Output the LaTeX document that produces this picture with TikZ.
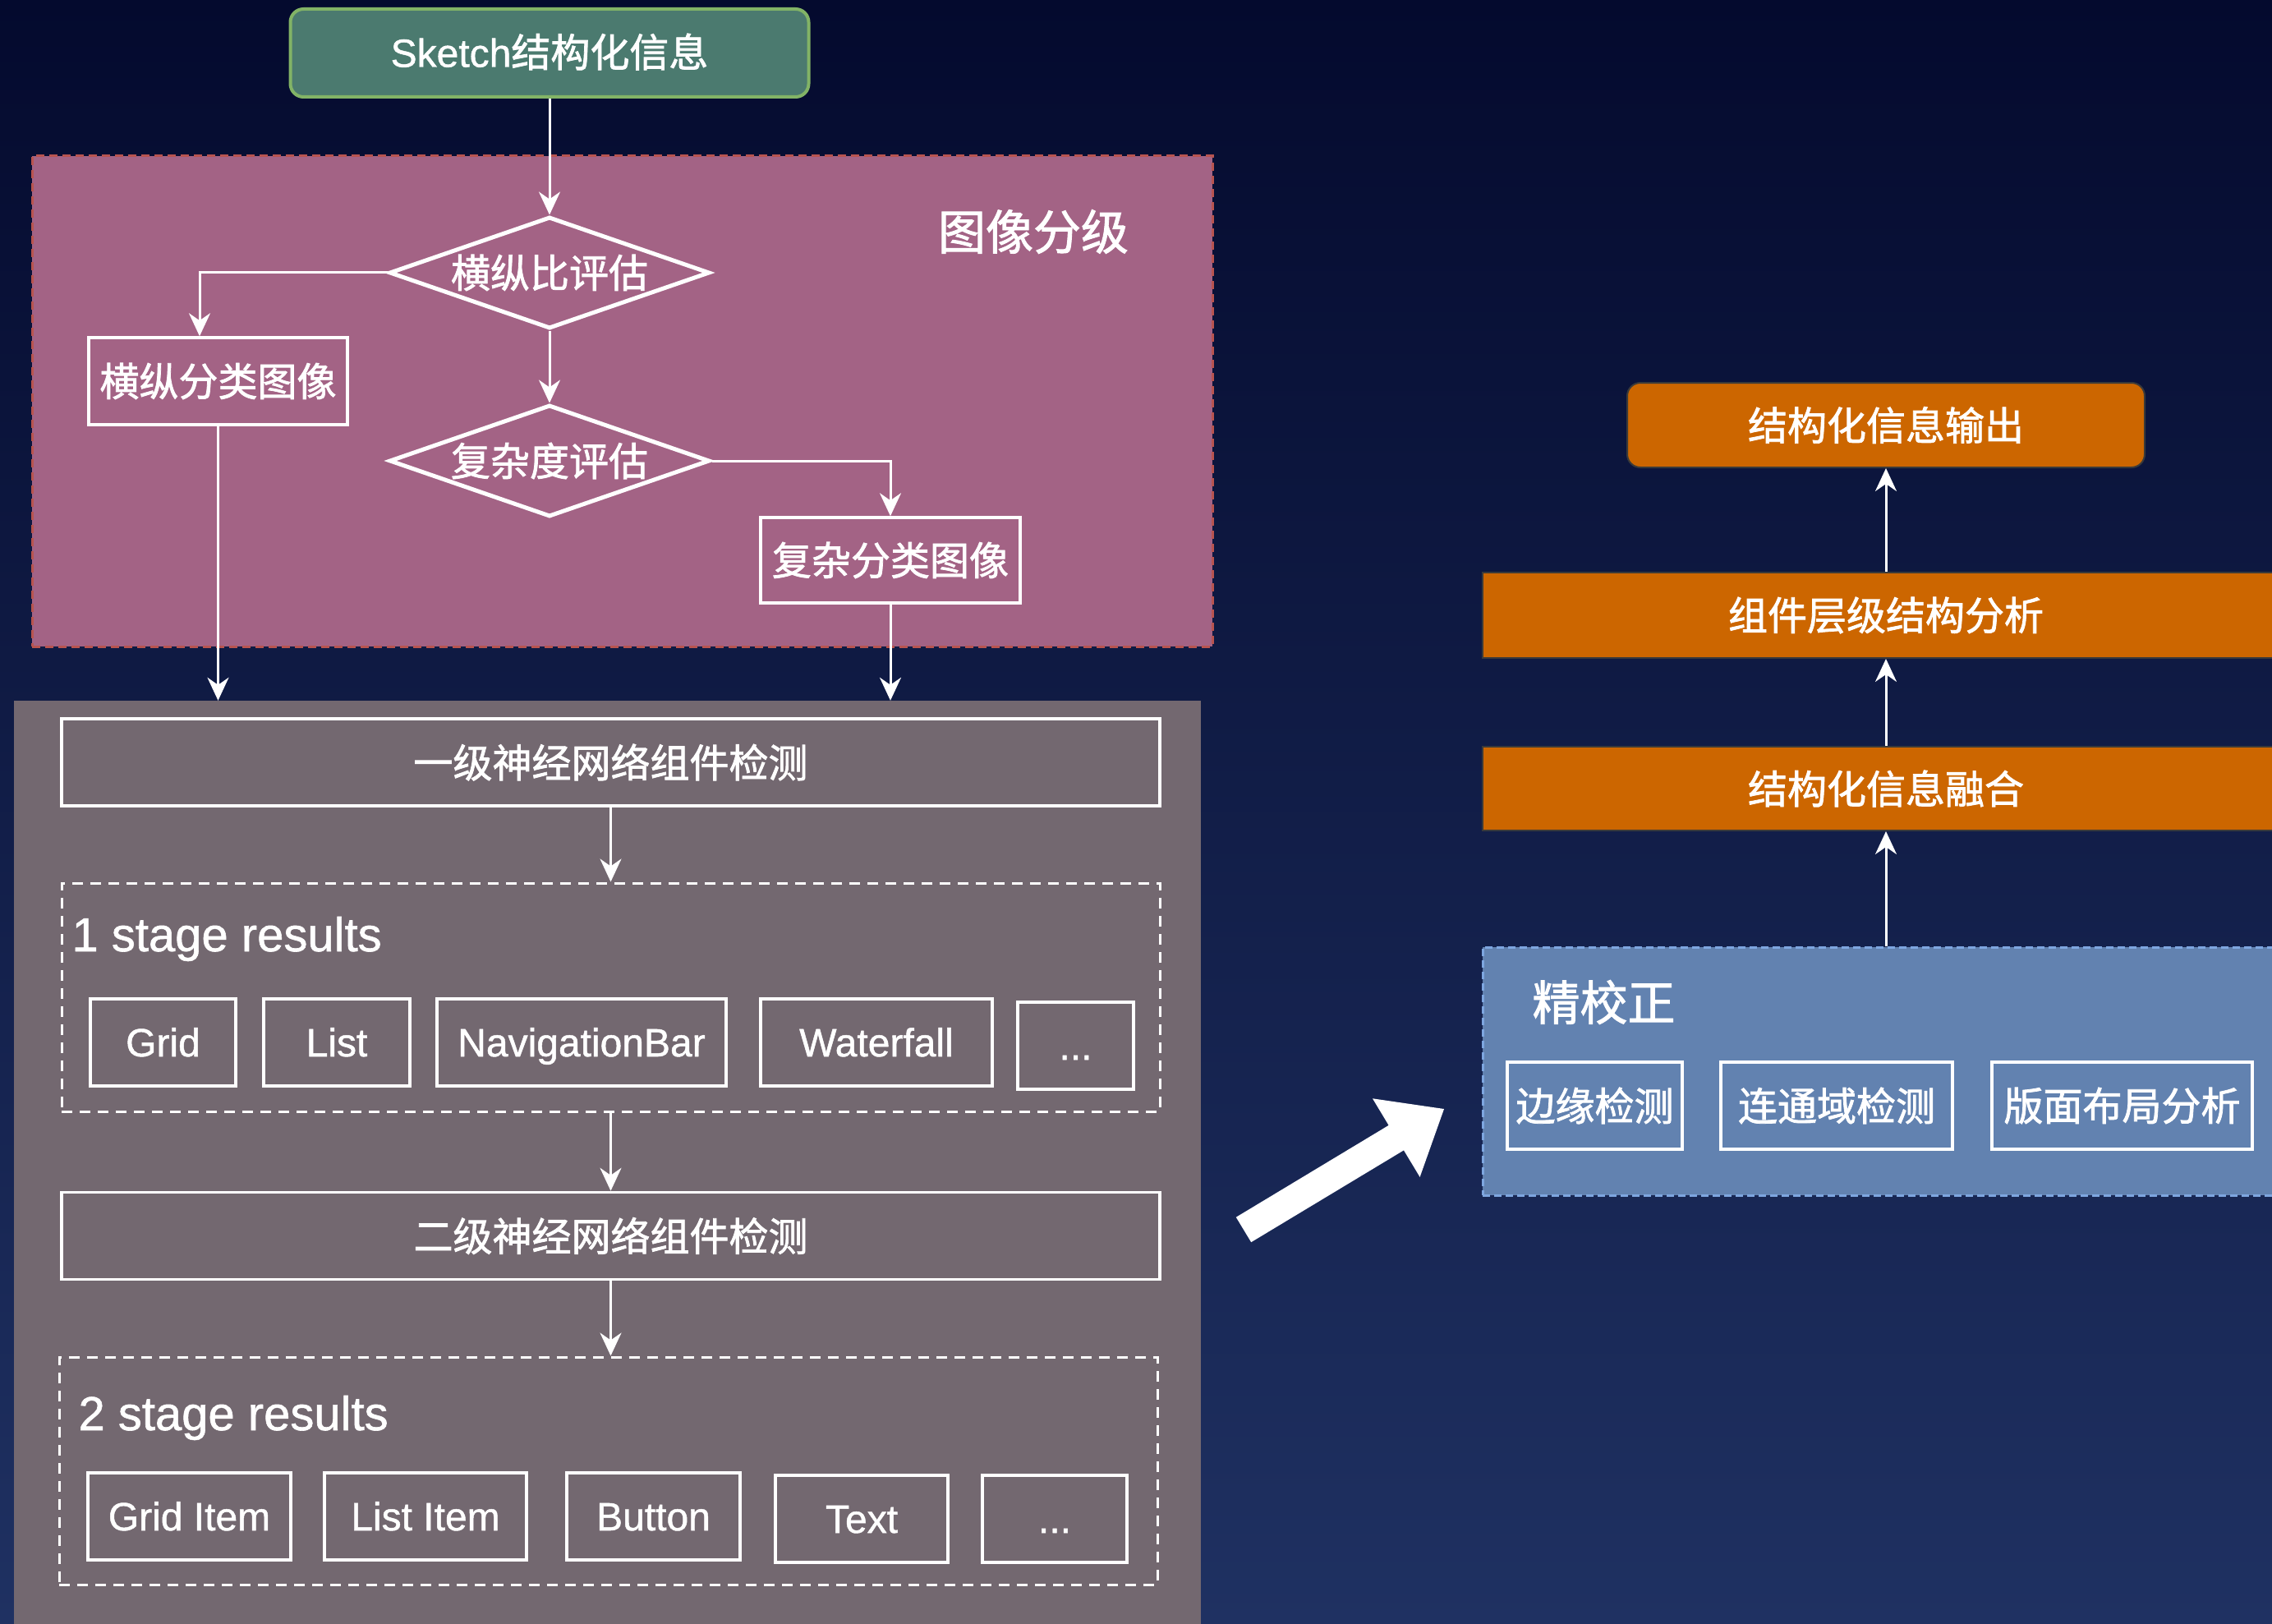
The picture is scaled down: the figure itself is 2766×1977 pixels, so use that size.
\documentclass[tikz,border=0pt]{standalone}
\usepackage{fontspec}
\setmainfont[FakeBold=1]{Liberation Sans}
\newfontfamily\cjk[FakeBold=1.6]{Noto Sans CJK SC}
\usetikzlibrary{shapes.geometric,arrows.meta}
\definecolor{bgtop}{HTML}{040A2E}
\definecolor{bgbot}{HTML}{1F3162}
\definecolor{greenf}{HTML}{4B7A6F}
\definecolor{greenb}{HTML}{82B366}
\definecolor{pinkf}{HTML}{A36385}
\definecolor{pinkb}{HTML}{B85450}
\definecolor{grayf}{HTML}{736870}
\definecolor{bluef}{HTML}{6282B0}
\definecolor{blueb}{HTML}{7EA6E0}
\definecolor{orangef}{HTML}{CC6600}
\definecolor{orangeb}{HTML}{3A3A3A}
\tikzset{
  zh/.style={font=\cjk\fontsize{48}{56}\selectfont, text=white},
  en/.style={font=\fontsize{48}{56}\selectfont, text=white, text height=34pt, text depth=0pt},
  zhbig/.style={font=\cjk\fontsize{58}{66}\selectfont, text=white},
  enbig/.style={font=\fontsize{58}{66}\selectfont, text=white},
  wbox/.style={draw=white, line width=3.5pt, inner sep=0pt, minimum height=106pt},
  dia/.style={diamond, draw=white, line width=5pt, inner sep=0pt, minimum width=390pt, minimum height=136pt},
  wdash/.style={draw=white, line width=3pt, dash pattern=on 13pt off 9pt, inner sep=0pt},
  obox/.style={fill=orangef, draw=orangeb, line width=2pt, inner sep=0pt},
  arr/.style={draw=white, line width=3pt, -{Stealth[length=28pt,width=26pt,inset=9pt]}},
}
\begin{document}
\begin{tikzpicture}[x=1pt,y=-1pt]
\useasboundingbox (0,0) rectangle (2766,1977);
\clip (0,0) rectangle (2766,1977);
\fill[top color=bgtop, bottom color=bgbot] (0,0) rectangle (2766,1977);

% regions
\node[fill=pinkf, draw=pinkb, line width=3pt, dash pattern=on 10pt off 6pt, minimum width=1437pt, minimum height=597pt, inner sep=0pt] (grading) at (757.5,488.5) {};
\node[zhbig] (gradingtitle) at (1258,282) {图像分级};
\node[fill=grayf, minimum width=1445pt, minimum height=1137pt, inner sep=0pt] (gray) at (739.5,1421.5) {};
\node[fill=bluef, draw=blueb, line width=3pt, dash pattern=on 9pt off 5pt, minimum width=982pt, minimum height=302pt, inner sep=0pt] (blue) at (2296,1304) {};
\node[zhbig, anchor=west] (bluetitle) at (1862,1220) {精校正};

% top
\node[fill=greenf, draw=greenb, line width=4pt, rounded corners=16pt, minimum width=631pt, minimum height=107pt, inner sep=0pt, en] (src) at (669,64.5) {Sketch{\cjk 结构化信息}};
\node[dia, label={[zh]center:横纵比评估}] (d1) at (669,332) {};
\node[dia, label={[zh]center:复杂度评估}] (d2) at (669,561) {};
\node[wbox, zh, minimum width=315pt] (bhv) at (265.5,464) {横纵分类图像};
\node[wbox, zh, minimum width=316pt, minimum height=104pt] (bcx) at (1084,682) {复杂分类图像};

% gray panel
\node[wbox, zh, minimum width=1337pt] (l1) at (743.5,928) {一级神经网络组件检测};
\node[wdash, minimum width=1337pt, minimum height=278pt] (st1) at (743.5,1214) {};
\node[enbig, anchor=west] (st1t) at (84,1143) {1 stage results};
\node[wbox, en, minimum width=177pt] (grid) at (198.5,1269) {Grid};
\node[wbox, en, minimum width=178pt] (list) at (410,1269) {List};
\node[wbox, en, minimum width=352pt] (nav) at (708,1269) {NavigationBar};
\node[wbox, en, minimum width=282pt] (wf) at (1067,1269) {Waterfall};
\node[wbox, en, minimum width=141pt] (dots1) at (1309.5,1273) {...};
\node[wbox, zh, minimum width=1337pt] (l2) at (743.5,1504.5) {二级神经网络组件检测};
\node[wdash, minimum width=1337pt, minimum height=277pt] (st2) at (740.5,1790.5) {};
\node[enbig, anchor=west] (st2t) at (92,1726) {2 stage results};
\node[wbox, en, minimum width=247pt] (gi) at (230.5,1846) {Grid Item};
\node[wbox, en, minimum width=246pt] (li) at (518,1846) {List Item};
\node[wbox, en, minimum width=211pt] (btn) at (795.5,1846) {Button};
\node[wbox, en, minimum width=210pt] (txt) at (1049,1849) {Text};
\node[wbox, en, minimum width=176pt] (dots2) at (1284,1849) {...};

% right side
\node[obox, zh, rounded corners=16pt, minimum width=630pt, minimum height=103pt] (out) at (2296,517.5) {结构化信息输出};
\node[obox, zh, minimum width=982pt, minimum height=104pt] (hier) at (2296,749) {组件层级结构分析};
\node[obox, zh, minimum width=982pt, minimum height=102pt] (fuse) at (2296,960) {结构化信息融合};
\node[wbox, zh, minimum width=213pt] (edge) at (1941.5,1346) {边缘检测};
\node[wbox, zh, minimum width=282pt] (conn) at (2236,1346) {连通域检测};
\node[wbox, zh, minimum width=317pt] (layout) at (2583.5,1346) {版面布局分析};

% connectors
\draw[arr] (src.south) -- (d1.north);
\draw[arr] (d1.west) -| ([xshift=-22.5pt]bhv.north);
\draw[arr] (d1.south) -- (d2.north);
\draw[arr] (d2.east) -| (bcx.north);
\draw[arr] (bhv.south) -- (bhv.south |- gray.north);
\draw[arr] (bcx.south) -- (bcx.south |- gray.north);
\draw[arr] (l1.south) -- (st1.north);
\draw[arr] (st1.south) -- (l2.north);
\draw[arr] (l2.south) -- (l2.south |- st2.north);
\draw[arr] (blue.north) -- (fuse.south);
\draw[arr] (fuse.north) -- (hier.south);
\draw[arr] (hier.north) -- (out.south);

% big block arrow
\fill[white] (1523.2,1512.2) -- (1709,1400.3) -- (1728.6,1432.9) -- (1758,1350) -- (1671,1337.3) -- (1690.6,1369.9) -- (1504.8,1481.8) -- cycle;
\end{tikzpicture}
\end{document}
